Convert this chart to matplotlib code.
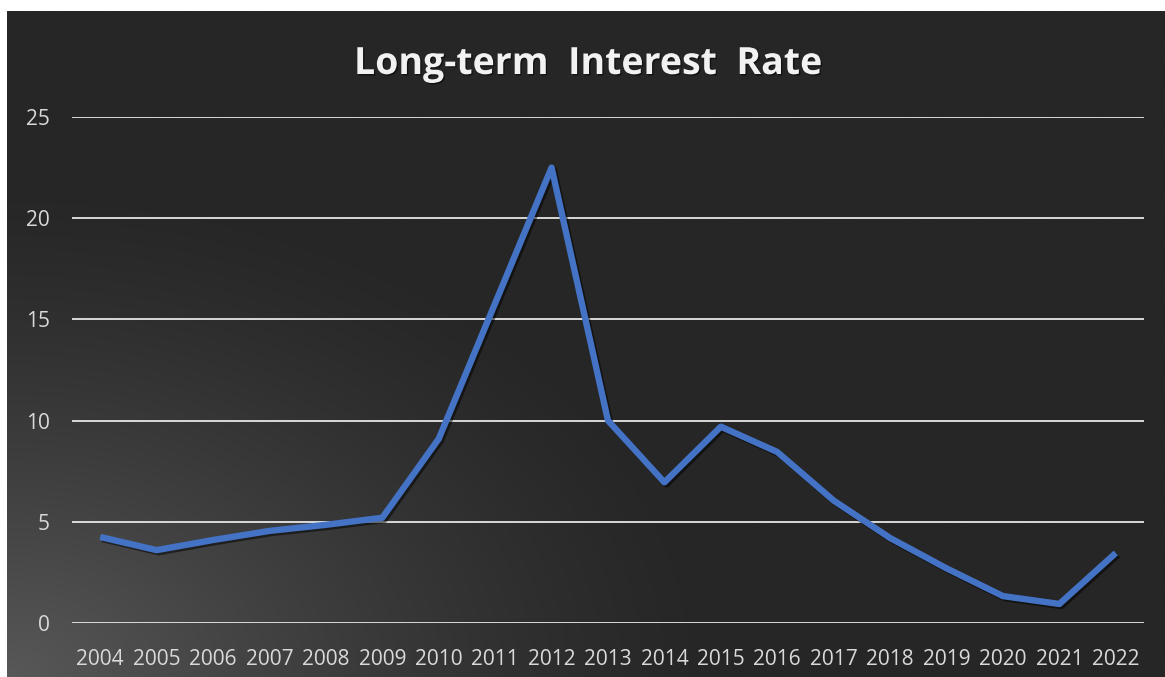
import numpy as np
import matplotlib
matplotlib.use("Agg")
import matplotlib.pyplot as plt
import matplotlib.patheffects as pe

years = [str(y) for y in range(2004, 2023)]
rates = [4.25, 3.6, 4.1, 4.55, 4.85, 5.2, 9.1, 15.8, 22.5, 10.0, 6.95,
         9.7, 8.45, 6.05, 4.2, 2.7, 1.33, 0.94, 3.46]
y_ticks = [0, 5, 10, 15, 20, 25]

W, H = 1165, 677
fig = plt.figure(figsize=(W / 100, H / 100), dpi=100, facecolor="white")

# dark panel with a soft glow from the lower-left corner
bg = fig.add_axes([7 / W, 0, (W - 7) / W, (H - 11) / H])
bg.set_axis_off()
nx, ny = 600, 340
xx, yy = np.meshgrid(np.linspace(0, 1, nx), np.linspace(0, 1, ny))
r = np.sqrt((xx / 0.62) ** 2 + (yy / 0.75) ** 2)
glow = np.clip(1 - r, 0, 1) ** 1.3
dark, light = 0x26 / 255, 0x58 / 255
val = dark + (light - dark) * glow
img = np.dstack([val, val, val])
bg.imshow(img, origin="lower", extent=[0, 1, 0, 1], aspect="auto")
bg.set_xlim(0, 1)
bg.set_ylim(0, 1)

ax = fig.add_axes([72 / W, 54 / H, (1144 - 72) / W, (623 - 117) / H])
ax.patch.set_alpha(0)
x = np.arange(len(years))
ax.plot(x, rates, color="#4472C4", lw=4.6, solid_joinstyle="round",
        solid_capstyle="butt", zorder=3,
        path_effects=[pe.SimpleLineShadow(offset=(1.5, -1.5), shadow_color="black", alpha=0.5),
                      pe.Normal()])
ax.set_xlim(-0.5, len(years) - 0.5)
ax.set_ylim(0, 25)
ax.set_yticks(y_ticks)
ax.set_xticks(x)
ax.set_xticklabels(years)
ax.yaxis.grid(True, color="#e6e6e6", lw=1.3)
ax.set_axisbelow(True)
for s in ax.spines.values():
    s.set_visible(False)
ax.tick_params(axis="both", length=0, labelsize=15, labelcolor="#d9d9d9")
ax.tick_params(axis="y", pad=16)
ax.tick_params(axis="x", pad=19)
for lab in ax.get_xticklabels() + ax.get_yticklabels():
    lab.set_family("Open Sans")

t = fig.text(588 / W, 1 - 64 / H, "Long-term  Interest  Rate", ha="center", va="center",
             fontsize=27, fontweight="bold", color="#f2f2f2", family="Open Sans")
t.set_path_effects([pe.withSimplePatchShadow(offset=(1, -1), shadow_rgbFace="black", alpha=0.5)])

fig.savefig("out.png", dpi=100, facecolor="white")
